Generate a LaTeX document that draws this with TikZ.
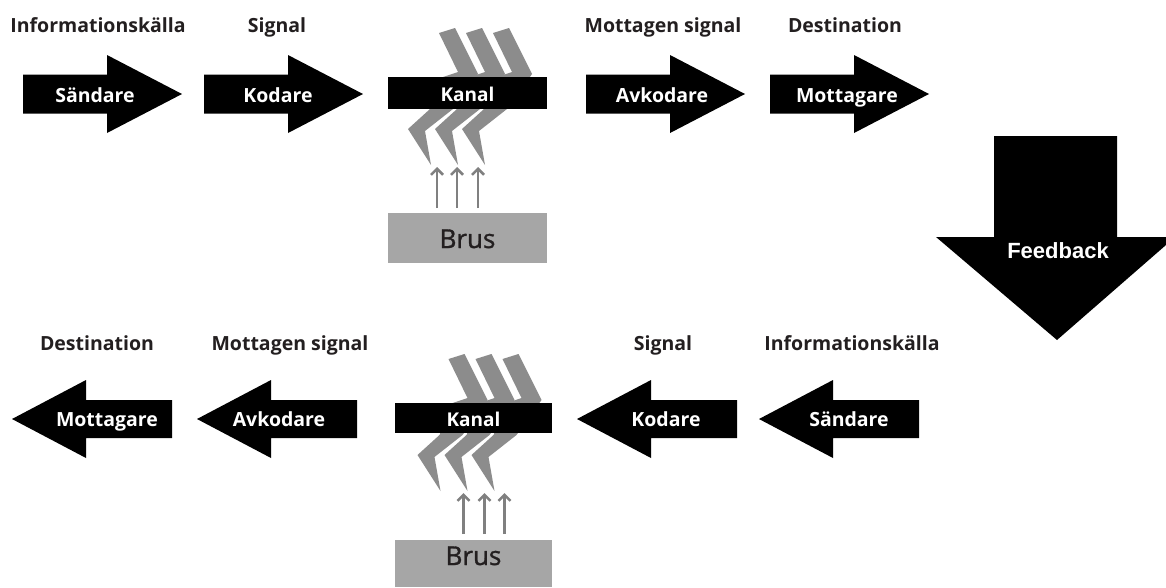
\documentclass[tikz,border=0pt]{standalone}
\usepackage{fontspec}
\setmainfont{Open Sans}
\newfontfamily\arialfont{Liberation Sans}
\newfontfamily\brusfont{Open Sans}[FakeBold=1.2]
\usetikzlibrary{arrows.meta}
\definecolor{boltgray}{RGB}{140,140,140}
\definecolor{brusgray}{RGB}{166,166,166}
\definecolor{arrowgray}{RGB}{128,128,128}
\definecolor{txtdark}{RGB}{35,31,32}
\tikzset{
  rarrow/.pic={\fill[black] (0,-19.5) -- (84,-19.5) -- (84,-39) -- (159,0) -- (84,39) -- (84,19.5) -- (0,19.5) -- cycle;},
  larrow/.pic={\fill[black] (0,0) -- (74,-39) -- (74,-19) -- (160,-19) -- (160,19) -- (74,19) -- (74,39) -- cycle;},
  boltpic/.pic={\fill[boltgray] (0,0) -- (16,-5) -- (39,41) -- (14,76) -- (-14,98) -- (-8,132) -- (-31,96) -- (-9,76) -- (4,44) -- (19,39) -- cycle;},
  toplabel/.style={font=\fontsize{19.5}{19.5}\selectfont\bfseries, text=txtdark, anchor=base, inner sep=0pt},
  inlabel/.style={font=\fontsize{19.5}{19.5}\selectfont\bfseries, text=white, anchor=base, inner sep=0pt},
  kanallabel/.style={font=\fontsize{19}{19}\selectfont\bfseries, text=white, anchor=base, inner sep=0pt},
  bruslabel/.style={font=\brusfont\fontsize{26}{26}\selectfont, text=txtdark, anchor=base, inner sep=0pt},
  noise/.style={draw=arrowgray, line width=2.5pt, -{Straight Barb[length=6pt,width=12pt,line width=2.5pt]}},
}
\begin{document}
\begin{tikzpicture}[x=1pt,y=-1pt]
\useasboundingbox (0,0) rectangle (1166,587);
\fill[white] (0,0) rectangle (1166,587);

% ---------- top row ----------
\pic at (23,94) {rarrow};
\pic at (204,94) {rarrow};
\pic at (586,94) {rarrow};
\pic at (770,94) {rarrow};
\node[inlabel] (s1) at (95,102) {Sändare};
\node[inlabel] (k1) at (278,102) {Kodare};
\node[inlabel] (a1) at (662,102) {Avkodare};
\node[inlabel] (m1) at (847,102) {Mottagare};
\node[toplabel] (l1) at (98,32) {Informationskälla};
\node[toplabel] (l2) at (277,32) {Signal};
\node[toplabel] (l3) at (663,32) {Mottagen signal};
\node[toplabel] (l4) at (845,32) {Destination};

% top channel
\pic at (439,33) {boltpic};
\pic at (466,33) {boltpic};
\pic at (493,33) {boltpic};
\fill[black] (388,77) rectangle (547,109);
\node[kanallabel] (kan1) at (467.5,101) {Kanal};
\draw[noise] (437,208) -- (437,167);
\draw[noise] (457,208) -- (457,167);
\draw[noise] (478,208) -- (478,167);
\fill[brusgray] (388,213) rectangle (547,263);
\node[bruslabel] (b1) at (467.5,248) {Brus};

% ---------- feedback ----------
\fill[black] (994,136) -- (1117,136) -- (1117,237) -- (1166,237) -- (1166,245) -- (1057,340) -- (936,237) -- (994,237) -- cycle;
\node[font=\arialfont\bfseries\fontsize{22}{22}\selectfont, text=white, anchor=base, inner sep=0pt] (fb) at (1058,258) {Feedback};

% ---------- bottom row ----------
\pic at (12,419) {larrow};
\pic at (197,419) {larrow};
\pic at (577,419) {larrow};
\pic at (759,419) {larrow};
\node[inlabel] (m2) at (107,426) {Mottagare};
\node[inlabel] (a2) at (279,426) {Avkodare};
\node[inlabel] (k2) at (666,426) {Kodare};
\node[inlabel] (s2) at (849,426) {Sändare};
\node[toplabel] (l5) at (97,350) {Destination};
\node[toplabel] (l6) at (290,350) {Mottagen signal};
\node[toplabel] (l7) at (663,350) {Signal};
\node[toplabel] (l8) at (852,350) {Informationskälla};

% bottom channel (mirrored)
\begin{scope}[shift={(941.5,326)}, xscale=-1]
  \pic at (439,33) {boltpic};
  \pic at (466,33) {boltpic};
  \pic at (493,33) {boltpic};
  \draw[noise] (437,208) -- (437,167);
  \draw[noise] (457,208) -- (457,167);
  \draw[noise] (478,208) -- (478,167);
\end{scope}
\fill[black] (395,403) rectangle (552,433);
\node[kanallabel] (kan2) at (473.5,426) {Kanal};
\fill[brusgray] (395,540) rectangle (552,587);
\node[bruslabel] (b2) at (473.5,565) {Brus};
\end{tikzpicture}
\end{document}
